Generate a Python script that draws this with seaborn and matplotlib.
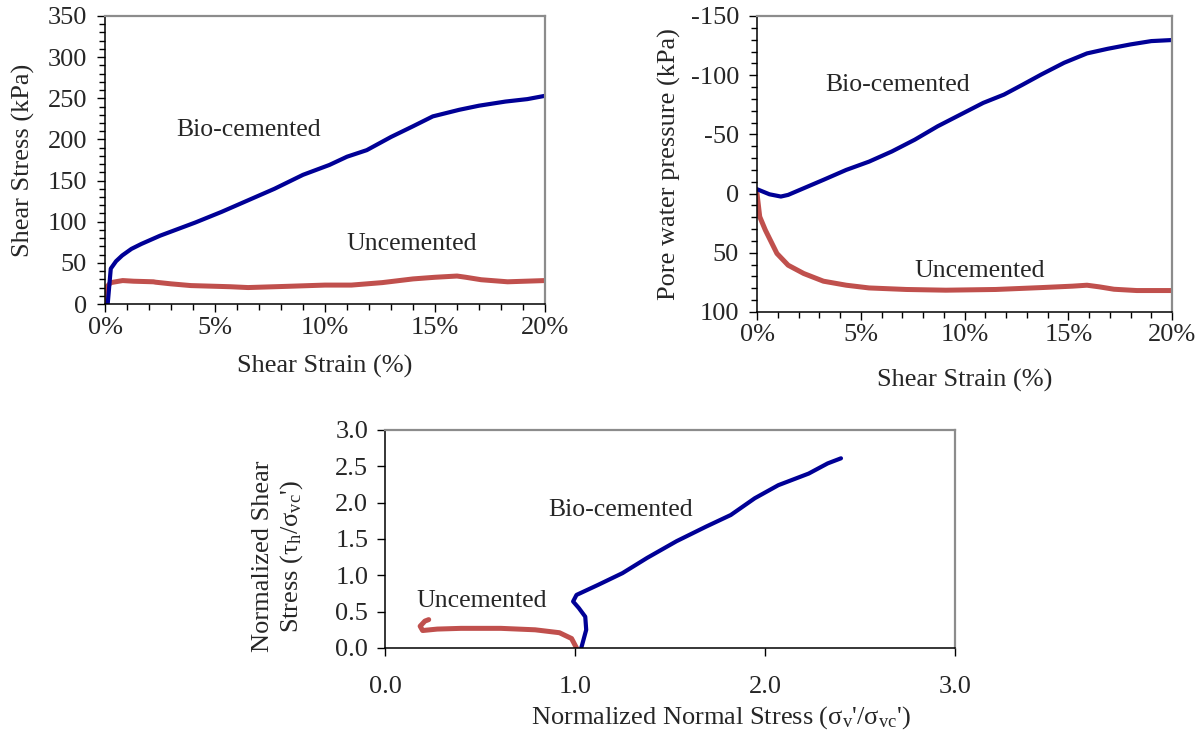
import matplotlib
matplotlib.use("Agg")
import matplotlib.pyplot as plt
import matplotlib.ticker as mticker
import pandas as pd
import seaborn as sns

# ---- data ----
# top-left: shear stress vs shear strain
strain_bio = [0.12, 0.26, 0.5, 0.78, 1.2, 1.65, 2.5, 3.4, 4.1, 5.3, 6.5, 7.7, 9.0,
              10.2, 11.0, 11.9, 13.0, 14.0, 14.9, 16.1, 17.0, 18.2, 19.2, 20.0]
stress_bio = [0, 43, 52, 59, 67, 73, 83, 92, 99, 112, 126, 140, 157,
              169, 179, 187, 203, 216, 228, 236, 241, 246, 249, 253]
strain_unc = [0, 0.05, 0.26, 0.8, 1.3, 2.2, 2.3, 3.0, 3.9, 5.7, 6.5, 8.3, 10.0,
              11.2, 12.6, 14.0, 15.0, 16.0, 16.4, 17.1, 18.3, 20.0]
stress_unc = [0, 20, 26, 28.5, 27.7, 27, 26.5, 24.5, 22.4, 21, 20, 21.5, 23,
              23, 26, 30.5, 32.5, 34, 32.5, 29.5, 27, 28.5]

# top-right: pore water pressure vs shear strain
strain_pwp_bio = [0, 0.6, 1.15, 1.5, 2.25, 3.2, 4.3, 5.4, 6.5, 7.6, 8.7, 9.8, 10.9,
                  11.9, 12.8, 13.7, 14.8, 15.9, 16.9, 18.0, 19.0, 20.0]
pwp_bio = [-3.7, 0.6, 2.5, 1.1, -4.5, -11.6, -20, -27, -35.6, -45.5, -56.8, -66.7, -76.6,
           -83.6, -92, -100.6, -110.5, -118.4, -122.3, -126, -128.8, -129.7]
strain_pwp_unc = [0, 0.13, 0.4, 0.96, 1.5, 2.25, 3.2, 4.3, 5.4, 7.2, 9.1, 11.5,
                  13.7, 15.2, 15.9, 16.5, 17.2, 18.3, 20.0]
pwp_unc = [0, 19.5, 30.8, 50.6, 60.5, 67.5, 74, 77.4, 79.7, 81, 81.6, 81,
           79.4, 78.2, 77.4, 78.8, 80.8, 81.9, 81.9]

# bottom: normalized stress path
sv_bio = [1.033, 1.059, 1.054, 1.02, 0.99, 1.008, 1.123, 1.25, 1.38, 1.535,
          1.69, 1.82, 1.946, 2.07, 2.23, 2.33, 2.40]
tau_bio = [0, 0.25, 0.43, 0.55, 0.64, 0.73, 0.87, 1.03, 1.24, 1.47,
           1.67, 1.83, 2.06, 2.24, 2.40, 2.54, 2.61]
sv_unc = [1.008, 0.982, 0.918, 0.79, 0.61, 0.40, 0.275, 0.198, 0.185, 0.21, 0.23]
tau_unc = [0, 0.13, 0.21, 0.25, 0.27, 0.27, 0.26, 0.24, 0.30, 0.37, 0.39]

BLUE = "#000096"
RED = "#c0504d"

sns.set_style("ticks")
plt.rcParams["font.family"] = ["Liberation Serif", "DejaVu Serif"]
plt.rcParams["mathtext.fontset"] = "custom"
plt.rcParams["mathtext.rm"] = "Liberation Serif"
plt.rcParams["mathtext.it"] = "Liberation Serif:italic"
FS = 19     # ticks and axis labels
FT = 18.5   # curve annotations

fig = plt.figure(figsize=(12.02, 7.37), dpi=100)
ax1 = fig.add_axes([0.0874, 0.5875, 0.366, 0.3908])
ax2 = fig.add_axes([0.6298, 0.5767, 0.3453, 0.4016])
ax3 = fig.add_axes([0.3203, 0.1208, 0.4742, 0.2958])


def style_axes(ax):
    for s in ["left", "bottom"]:
        ax.spines[s].set_color("black")
        ax.spines[s].set_linewidth(1.1)
    for s in ["top", "right"]:
        ax.spines[s].set_color("#8c8c8c")
        ax.spines[s].set_linewidth(1.6)
    ax.tick_params(which="major", direction="out", length=6, width=1.0,
                   labelsize=FS, color="black", pad=3)
    ax.tick_params(axis="y", which="major", pad=7)
    ax.tick_params(which="minor", direction="out", length=4, width=1.0, color="black")
    ax.set_facecolor("white")


def line(ax, x, y, color, lw):
    df = pd.DataFrame({"x": x, "y": y})
    sns.lineplot(data=df, x="x", y="y", ax=ax, sort=False, estimator=None,
                 color=color, lw=lw, solid_capstyle="round", solid_joinstyle="round")


# ---- top-left ----
line(ax1, strain_unc, stress_unc, RED, 3.6)
line(ax1, strain_bio, stress_bio, BLUE, 3.0)
ax1.set_xlim(0, 20)
ax1.set_ylim(0, 350)
ax1.xaxis.set_major_locator(mticker.MultipleLocator(5))
ax1.xaxis.set_minor_locator(mticker.MultipleLocator(1))
ax1.xaxis.set_major_formatter(mticker.FuncFormatter(lambda v, p: f"{v:.0f}%"))
ax1.yaxis.set_major_locator(mticker.MultipleLocator(50))
ax1.yaxis.set_minor_locator(mticker.MultipleLocator(10))
style_axes(ax1)
ax1.set_xlabel("Shear Strain (%)", fontsize=FS, labelpad=12)
ax1.set_ylabel("Shear Stress (kPa)", fontsize=FS, labelpad=9)
ax1.text(3.25, 212, "Bio-cemented", fontsize=FT, va="center", ha="left")
ax1.text(10.96, 73, "Uncemented", fontsize=FT, va="center", ha="left")

# ---- top-right ----
line(ax2, strain_pwp_unc, pwp_unc, RED, 3.6)
line(ax2, strain_pwp_bio, pwp_bio, BLUE, 3.0)
ax2.set_xlim(0, 20)
ax2.set_ylim(100, -150)
ax2.xaxis.set_major_locator(mticker.MultipleLocator(5))
ax2.xaxis.set_minor_locator(mticker.MultipleLocator(1))
ax2.xaxis.set_major_formatter(mticker.FuncFormatter(lambda v, p: f"{v:.0f}%"))
ax2.yaxis.set_major_locator(mticker.MultipleLocator(50))
ax2.yaxis.set_minor_locator(mticker.MultipleLocator(10))
ax2.yaxis.set_major_formatter(mticker.FuncFormatter(lambda v, p: f"{v:.0f}"))
style_axes(ax2)
ax2.set_xlabel("Shear Strain (%)", fontsize=FS, labelpad=16)
ax2.set_ylabel("Pore water pressure (kPa)", fontsize=FS, labelpad=7)
ax2.text(3.27, -92, "Bio-cemented", fontsize=FT, va="center", ha="left")
ax2.text(7.6, 65, "Uncemented", fontsize=FT, va="center", ha="left")

# ---- bottom ----
line(ax3, sv_unc, tau_unc, RED, 3.6)
line(ax3, sv_bio, tau_bio, BLUE, 3.0)
ax3.set_xlim(0, 3)
ax3.set_ylim(0, 3)
ax3.xaxis.set_major_locator(mticker.MultipleLocator(1))
ax3.yaxis.set_major_locator(mticker.MultipleLocator(0.5))
ax3.xaxis.set_major_formatter(mticker.FormatStrFormatter("%.1f"))
ax3.yaxis.set_major_formatter(mticker.FormatStrFormatter("%.1f"))
style_axes(ax3)
ax3.tick_params(axis="x", which="major", pad=14)
ax3.tick_params(axis="y", which="major", pad=6)
ax3.set_xlabel("Normalized Normal Stress (σ$_\\mathrm{v}$'/σ$_\\mathrm{vc}$')", fontsize=FS)
ax3.xaxis.set_label_coords(0.59, -0.26)
ax3.set_ylabel("Normalized Shear\nStress (τ$_\\mathrm{h}$/σ$_\\mathrm{vc}$')", fontsize=FS,
               linespacing=1.25)
ax3.yaxis.set_label_coords(-0.14, 0.42)
ax3.text(0.86, 1.90, "Bio-cemented", fontsize=FT, va="center", ha="left")
ax3.text(0.167, 0.64, "Uncemented", fontsize=FT, va="center", ha="left")

fig.savefig("out.png", dpi=100, facecolor="white")
